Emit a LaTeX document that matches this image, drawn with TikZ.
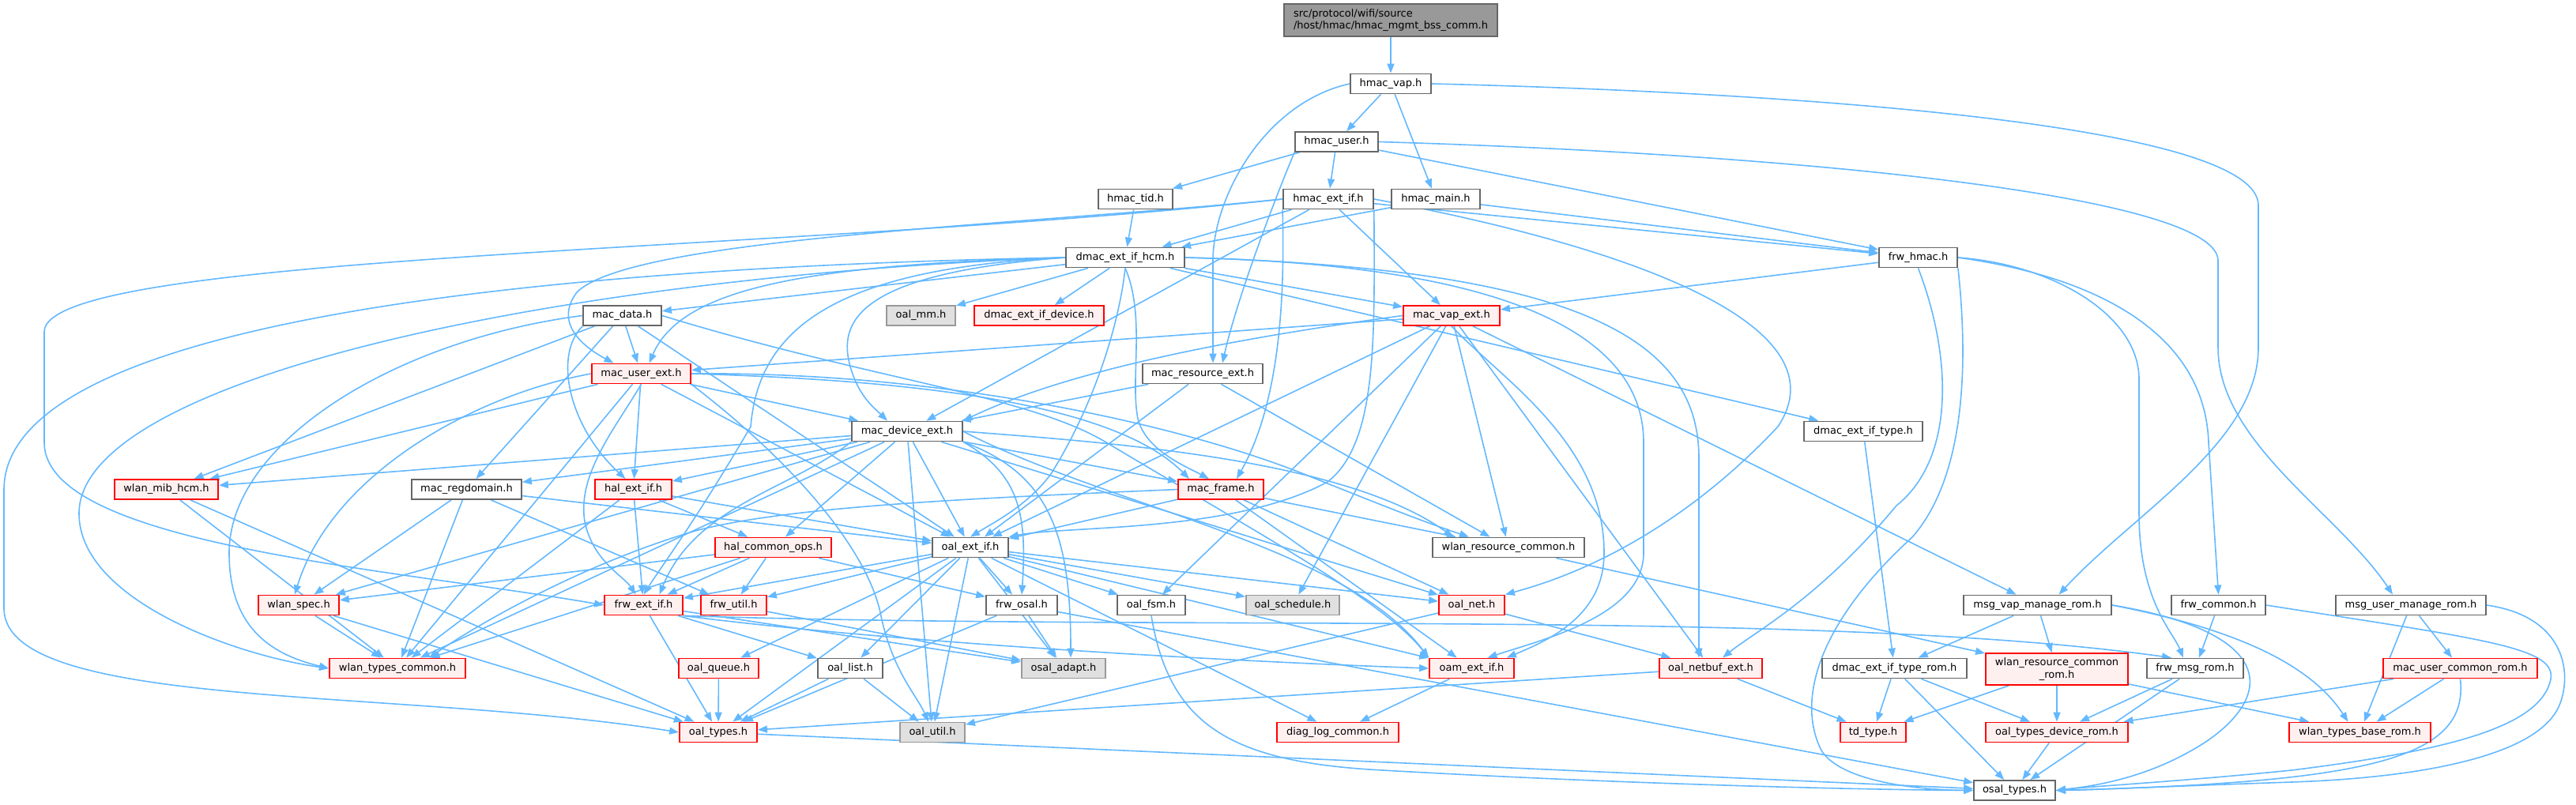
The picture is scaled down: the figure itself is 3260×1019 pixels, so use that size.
\documentclass[tikz,border=0pt]{standalone}
\usepackage{fontspec}
\setmainfont{DejaVu Sans}
\usepackage{tikz}
\usetikzlibrary{arrows.meta}
\usetikzlibrary{backgrounds}
\definecolor{edgeblue}{HTML}{63B8FF}
\definecolor{redfill}{HTML}{FFF0F0}
\definecolor{grayfill}{HTML}{E0E0E0}
\definecolor{topfill}{HTML}{999999}
\tikzset{
    hdr/.style={draw=black!60, fill=white, line width=1.8pt, minimum height=25pt,
        inner sep=0pt, font=\fontsize{13}{15.5}\selectfont},
    trunc/.style={hdr, draw=red, fill=redfill},
    undoc/.style={hdr, draw=black!40, fill=grayfill},
    mainhdr/.style={hdr, fill=topfill, minimum height=41pt, align=left},
    dep/.style={draw=edgeblue, line width=1.6pt, -{Triangle[length=12pt,width=9pt]}}
}

\begin{document}
\begin{tikzpicture}[x=1pt,y=-1pt]
    \useasboundingbox (0,0) rectangle (3260,1019);
    % headers
    \node[mainhdr, minimum width=270pt] (root) at (1760,25.5) {src/protocol/wifi/source\\/host/hmac/hmac\_mgmt\_bss\_comm.h};
    \node[hdr, minimum width=102pt] (hvap) at (1760,106) {hmac\_vap.h};
    \node[hdr, minimum width=105pt] (huser) at (1691.5,179.5) {hmac\_user.h};
    \node[hdr, minimum width=94pt] (htid) at (1437,252) {hmac\_tid.h};
    \node[hdr, minimum width=114pt] (hextif) at (1681,252) {hmac\_ext\_if.h};
    \node[hdr, minimum width=112pt] (hmain) at (1817,252) {hmac\_main.h};
    \node[hdr, minimum width=150pt] (dhcm) at (1424,326) {dmac\_ext\_if\_hcm.h};
    \node[hdr, minimum width=99pt] (frwhmac) at (2427.5,326) {frw\_hmac.h};
    \node[hdr, minimum width=99pt] (macdata) at (787.5,399.5) {mac\_data.h};
    \node[undoc, minimum width=87pt] (oalmm) at (1165.5,399.5) {oal\_mm.h};
    \node[trunc, minimum width=164pt] (ddevice) at (1315,399.5) {dmac\_ext\_if\_device.h};
    \node[trunc, minimum width=122pt] (macvap) at (1837,399.5) {mac\_vap\_ext.h};
    \node[trunc, minimum width=125pt] (macuser) at (811.5,473) {mac\_user\_ext.h};
    \node[hdr, minimum width=152pt] (macres) at (1522,473) {mac\_resource\_ext.h};
    \node[hdr, minimum width=150pt] (dtype) at (2358,546) {dmac\_ext\_if\_type.h};
    \node[hdr, minimum width=140pt] (macdev) at (1148,546) {mac\_device\_ext.h};
    \node[trunc, minimum width=131pt] (wlanmib) at (210.5,619.5) {wlan\_mib\_hcm.h};
    \node[hdr, minimum width=139pt] (macreg) at (590.5,619.5) {mac\_regdomain.h};
    \node[trunc, minimum width=97pt] (halext) at (801.5,619.5) {hal\_ext\_if.h};
    \node[trunc, minimum width=108pt] (macframe) at (1545,619.5) {mac\_frame.h};
    \node[hdr, minimum width=192pt] (wlanres) at (1909,693) {wlan\_resource\_common.h};
    \node[trunc, minimum width=147pt] (halops) at (978.5,693) {hal\_common\_ops.h};
    \node[hdr, minimum width=96pt] (oalext) at (1228,693) {oal\_ext\_if.h};
    \node[trunc, minimum width=102pt] (wlanspec) at (378,766) {wlan\_spec.h};
    \node[trunc, minimum width=99pt] (frwext) at (814.5,766) {frw\_ext\_if.h};
    \node[trunc, minimum width=83pt] (frwutil) at (928.5,766) {frw\_util.h};
    \node[hdr, minimum width=90pt] (frwosal) at (1293,766) {frw\_osal.h};
    \node[hdr, minimum width=86pt] (oalfsm) at (1457,766) {oal\_fsm.h};
    \node[undoc, minimum width=118pt] (oalsched) at (1636,766) {oal\_schedule.h};
    \node[trunc, minimum width=83pt] (oalnet) at (1862.5,766) {oal\_net.h};
    \node[hdr, minimum width=187pt] (msgvap) at (2578.5,766) {msg\_vap\_manage\_rom.h};
    \node[hdr, minimum width=119pt] (frwcommon) at (2807.5,766) {frw\_common.h};
    \node[hdr, minimum width=190pt] (msguser) at (3051,766) {msg\_user\_manage\_rom.h};
    \node[trunc, minimum width=172pt] (wlantypes) at (503,846) {wlan\_types\_common.h};
    \node[trunc, minimum width=101pt] (oalqueue) at (909.5,846) {oal\_queue.h};
    \node[hdr, minimum width=82pt] (oallist) at (1076,846) {oal\_list.h};
    \node[undoc, minimum width=106pt] (osaladapt) at (1346,846) {osal\_adapt.h};
    \node[trunc, minimum width=107pt] (oamext) at (1862.5,846) {oam\_ext\_if.h};
    \node[trunc, minimum width=130pt] (oalnetbuf) at (2165,846) {oal\_netbuf\_ext.h};
    \node[hdr, minimum width=183pt] (dtyperom) at (2397.5,846) {dmac\_ext\_if\_type\_rom.h};
    \node[trunc, minimum width=180pt, minimum height=40pt, align=center] (wlanresrom) at (2603,847) {wlan\_resource\_common\\\_rom.h};
    \node[hdr, minimum width=122pt] (frwmsg) at (2778,846) {frw\_msg\_rom.h};
    \node[trunc, minimum width=195pt] (macusercom) at (3113.5,846) {mac\_user\_common\_rom.h};
    \node[trunc, minimum width=98pt] (oaltypes) at (909,927) {oal\_types.h};
    \node[undoc, minimum width=82pt] (oalutil) at (1180,927) {oal\_util.h};
    \node[trunc, minimum width=154pt] (diaglog) at (1693,927) {diag\_log\_common.h};
    \node[trunc, minimum width=83pt] (tdtype) at (2370.5,927) {td\_type.h};
    \node[trunc, minimum width=180pt] (oaltypesdev) at (2603,927) {oal\_types\_device\_rom.h};
    \node[trunc, minimum width=179pt] (wlanbase) at (2986.5,927) {wlan\_types\_base\_rom.h};
    \node[hdr, minimum width=103pt] (osaltypes) at (2549.5,1000.5) {osal\_types.h};

    \begin{pgfonlayer}{background}
    % straight includes
    \draw[dep] (root) -- (hvap);
    \foreach \t in {huser,hmain} \draw[dep] (hvap) -- (\t);
    \foreach \t in {htid,hextif,frwhmac} \draw[dep] (huser) -- (\t);
    \draw[dep] (htid) -- (dhcm);
    \foreach \t in {dhcm,frwhmac,macvap,macdev} \draw[dep] (hextif) -- (\t);
    \foreach \t in {dhcm,frwhmac} \draw[dep] (hmain) -- (\t);
    \foreach \t in {macdata,oalmm,ddevice,macvap,dtype} \draw[dep] (dhcm) -- (\t);
    \draw[dep] (frwhmac) -- (macvap);
    \foreach \t in {macuser,wlanmib,macreg,oalext} \draw[dep] (macdata) -- (\t);
    \foreach \t in {macuser,oalext,oalfsm,oalsched,oalnetbuf,msgvap,wlanres} \draw[dep] (macvap) -- (\t);
    \foreach \t in {macdev,halext,wlanmib,wlantypes,oalext} \draw[dep] (macuser) -- (\t);
    \foreach \t in {macdev,oalext,wlanres} \draw[dep] (macres) -- (\t);
    \draw[dep] (dtype) -- (dtyperom);
    \foreach \t in {wlanmib,macreg,halext,macframe,halops,oalext,wlanspec,wlantypes,oalutil,oalnet} \draw[dep] (macdev) -- (\t);
    \foreach \t in {wlantypes,oaltypes} \draw[dep] (wlanmib) -- (\t);
    \foreach \t in {wlanspec,wlantypes,frwutil,oalext} \draw[dep] (macreg) -- (\t);
    \foreach \t in {oalext,frwext,halops,wlantypes} \draw[dep] (halext) -- (\t);
    \foreach \t in {oalext,wlanres,oamext,oalnet} \draw[dep] (macframe) -- (\t);
    \draw[dep] (wlanres) -- (wlanresrom);
    \foreach \t in {frwext,frwutil,wlanspec,wlantypes,frwosal} \draw[dep] (halops) -- (\t);
    \foreach \t in {frwext,frwutil,frwosal,oalfsm,oalsched,oalnet,oalqueue,oallist,oaltypes,oalutil,osaladapt,oamext,diaglog} \draw[dep] (oalext) -- (\t);
    \foreach \t in {wlantypes,oaltypes} \draw[dep] (wlanspec) -- (\t);
    \foreach \t in {oaltypes,oallist,osaladapt} \draw[dep] (frwext) -- (\t);
    \draw[dep] (frwutil) -- (osaladapt);
    \foreach \t in {oaltypes,osaladapt,osaltypes} \draw[dep] (frwosal) -- (\t);
    \foreach \t in {oalutil,oalnetbuf} \draw[dep] (oalnet) -- (\t);
    \foreach \t in {dtyperom,wlanresrom} \draw[dep] (msgvap) -- (\t);
    \draw[dep] (frwcommon) -- (frwmsg);
    \foreach \t in {macusercom,wlanbase} \draw[dep] (msguser) -- (\t);
    \draw[dep] (oalqueue) -- (oaltypes);
    \foreach \t in {oaltypes,oalutil} \draw[dep] (oallist) -- (\t);
    \draw[dep] (oamext) -- (diaglog);
    \foreach \t in {tdtype,oaltypes} \draw[dep] (oalnetbuf) -- (\t);
    \foreach \t in {oaltypesdev,osaltypes,tdtype} \draw[dep] (dtyperom) -- (\t);
    \foreach \t in {oaltypesdev,wlanbase,tdtype} \draw[dep] (wlanresrom) -- (\t);
    \foreach \t in {oaltypesdev,osaltypes} \draw[dep] (frwmsg) -- (\t);
    \foreach \t in {oaltypesdev,wlanbase} \draw[dep] (macusercom) -- (\t);
    \draw[dep] (oaltypes) -- (osaltypes);
    \draw[dep] (oaltypesdev) -- (osaltypes);
    % routed includes
    \draw[dep] (hvap.west) .. controls (1600,130) and (1535,250) .. (1535,330) -- ([xshift=13pt]macres.north);
    \draw[dep] (hvap.east) .. controls (2300,118) and (2858,160) .. (2858,260) -- (2858,440) .. controls (2858,560) and (2700,650) .. ([xshift=27pt]msgvap.north);
    \draw[dep] (huser.south west) .. controls (1610,260) and (1565,380) .. ([xshift=25pt]macres.north);
    \draw[dep] (huser.east) .. controls (2300,196) and (2807,250) .. (2807,330) -- (2807,440) .. controls (2807,560) and (2960,650) .. ([xshift=-23pt]msguser.north);
    \draw[dep] (hextif.east) .. controls (2100,320) and (2330,420) .. (2250,540) .. controls (2100,700) and (1950,740) .. (oalnet.north east);
    \draw[dep] (hextif.west) .. controls (1000,320) and (56,320) .. (56,420) -- (56,560) .. controls (56,690) and (500,720) .. (frwext.west);
    \draw[dep] (hextif.west) .. controls (1300,285) and (800,300) .. (730,370) .. controls (700,410) and (740,440) .. ([xshift=-35pt]macuser.north);
    \draw[dep] (hextif.south west) .. controls (1625,350) and (1625,500) .. ([xshift=20pt]macframe.north);
    \draw[dep] (hextif.south east) .. controls (1739,420) and (1745,560) .. (1680,610) .. controls (1560,675) and (1350,665) .. (oalext.north east);
    \draw[dep] (dhcm.west) .. controls (1000,335) and (860,370) .. ([xshift=10pt]macuser.north);
    \draw[dep] (dhcm.west) .. controls (1100,345) and (1060,400) .. (1075,460) .. controls (1085,500) and (1105,515) .. ([xshift=-25pt]macdev.north);
    \draw[dep] (dhcm.south) .. controls (1450,400) and (1430,480) .. (1440,530) .. controls (1450,570) and (1500,590) .. ([xshift=-15pt]macframe.north);
    \draw[dep] (dhcm.south) .. controls (1415,420) and (1380,520) .. (1330,600) .. controls (1300,640) and (1260,660) .. (oalext.north);
    \draw[dep] (dhcm.west) .. controls (1050,340) and (960,420) .. (950,540) .. controls (880,660) and (835,720) .. (frwext.north);
    \draw[dep] (dhcm.east) .. controls (1900,335) and (2080,420) .. (2080,560) -- (2080,700) .. controls (2080,780) and (1950,810) .. ([xshift=20pt]oamext.north);
    \draw[dep] (dhcm.east) .. controls (2000,340) and (2150,430) .. (2150,580) -- ([xshift=-15pt]oalnetbuf.north);
    \draw[dep] (dhcm.west) .. controls (600,340) and (5,420) .. (5,620) -- (5,770) .. controls (5,900) and (500,870) .. (oaltypes.west);
    \draw[dep] (dhcm.west) .. controls (700,350) and (100,480) .. (100,650) .. controls (100,760) and (300,830) .. (wlantypes.west);
    \draw[dep] (frwhmac.east) .. controls (2650,350) and (2790,420) .. (2795,560) -- (frwcommon.north);
    \draw[dep] (frwhmac.east) .. controls (2600,335) and (2707,400) .. (2707,480) -- (2707,650) .. controls (2707,760) and (2750,800) .. ([xshift=-15pt]frwmsg.north);
    \draw[dep] (frwhmac.south) .. controls (2470,450) and (2475,580) .. (2400,640) .. controls (2300,760) and (2220,800) .. ([xshift=15pt]oalnetbuf.north);
    \draw[dep] (frwhmac.south east) .. controls (2490,450) and (2490,600) .. (2420,680) .. controls (2310,780) and (2270,880) .. (2305,950) .. controls (2330,990) and (2430,1000) .. (osaltypes.west);
    \draw[dep] (macdata.south west) .. controls (700,450) and (720,540) .. ([xshift=-10pt]halext.north);
    \draw[dep] (macdata.west) .. controls (500,430) and (290,560) .. (290,700) .. controls (290,800) and (350,830) .. (wlantypes.west);
    \draw[dep] (macdata.east) .. controls (1100,480) and (1300,500) .. (1400,560) .. controls (1600,680) and (1750,760) .. (oamext.north west);
    \draw[dep] (macvap.west) .. controls (1550,430) and (1350,470) .. (macdev.north east);
    \draw[dep] (macvap.south) .. controls (1900,480) and (2030,560) .. (2030,700) .. controls (2030,780) and (1960,810) .. ([xshift=-10pt]oamext.north east);
    \draw[dep] (macuser.south) .. controls (780,540) and (730,600) .. (740,660) .. controls (750,710) and (790,730) .. ([xshift=-10pt]frwext.north);
    \draw[dep] (macuser.west) .. controls (600,500) and (420,600) .. ([xshift=-5pt]wlanspec.north);
    \draw[dep] (macuser.south east) .. controls (1010,590) and (1100,700) .. (1115,780) .. controls (1130,850) and (1160,880) .. ([xshift=-5pt]oalutil.north);
    \draw[dep] (macuser.east) .. controls (1100,480) and (1400,500) .. ([xshift=-40pt]macframe.north);
    \draw[dep] (macuser.east) .. controls (1200,470) and (1500,540) .. (1650,600) .. controls (1750,640) and (1800,660) .. ([xshift=-50pt]wlanres.north);
    \draw[dep] (macdev.south west) .. controls (1000,620) and (880,640) .. ([xshift=20pt]frwext.north);
    \draw[dep] (macdev.south east) .. controls (1330,600) and (1355,680) .. ([xshift=9pt]osaladapt.north);
    \draw[dep] (macdev.south east) .. controls (1290,600) and (1300,650) .. (frwosal.north);
    \draw[dep] (macdev.east) .. controls (1400,640) and (1700,690) .. (oamext.north west);
    \draw[dep] (macdev.east) .. controls (1400,560) and (1700,580) .. ([xshift=-70pt]wlanres.north);
    \draw[dep] (macframe.west) .. controls (1250,630) and (1000,640) .. (880,672) .. controls (750,710) and (620,780) .. ([xshift=40pt]wlantypes.north);
    \draw[dep] (oalfsm.south) .. controls (1480,920) and (1560,965) .. (1750,975) .. controls (2100,995) and (2400,1000) .. (osaltypes.west);
    \draw[dep] (frwext.south east) .. controls (1100,810) and (1500,835) .. (oamext.west);
    \draw[dep] (frwext.south east) .. controls (1500,800) and (2300,770) .. ([xshift=-30pt]frwmsg.north);
    \draw[dep] (msgvap.east) .. controls (2850,800) and (2930,850) .. ([xshift=-15pt]wlanbase.north);
    \draw[dep] (msgvap.east) .. controls (2880,800) and (2880,880) .. (2790,940) .. controls (2720,985) and (2650,995) .. (osaltypes.east);
    \draw[dep] (frwcommon.east) .. controls (3150,810) and (3235,820) .. (3228,860) .. controls (3215,920) and (3100,950) .. (2900,975) .. controls (2750,990) and (2650,995) .. (osaltypes.east);
    \draw[dep] (msguser.east) .. controls (3245,780) and (3255,850) .. (3240,890) .. controls (3215,960) and (3050,985) .. (2900,990) .. controls (2750,995) and (2650,1000) .. (osaltypes.east);
    \draw[dep] (macusercom.south) .. controls (3125,960) and (3000,990) .. (osaltypes.east);
    \end{pgfonlayer}
\end{tikzpicture}
\end{document}
